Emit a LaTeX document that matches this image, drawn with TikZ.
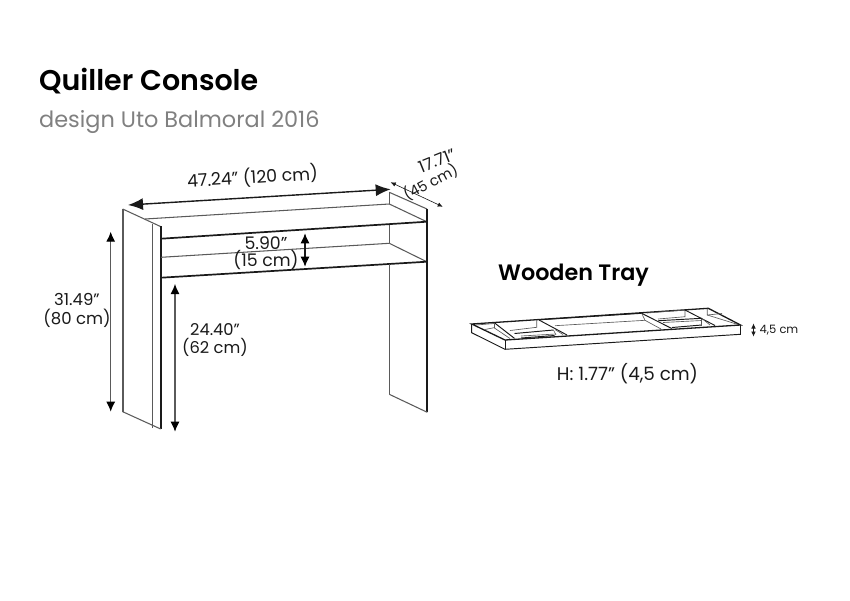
\documentclass[tikz,border=0pt]{standalone}
\usepackage{fontspec}
\setmainfont{Poppins}
\newfontfamily\semi{Poppins SemiBold}
\definecolor{ink}{HTML}{1A1A1A}
\definecolor{subgrey}{HTML}{808080}
\definecolor{edgegrey}{HTML}{5A5A5A}
\usetikzlibrary{arrows.meta}
\tikzset{
  heavy/.style={draw=ink,line width=1.7pt},
  thin edge/.style={draw=edgegrey,line width=1.05pt},
  mid edge/.style={draw=ink,line width=0.95pt},
  fine edge/.style={draw=edgegrey,line width=0.65pt},
  dimarrow/.style={draw=ink,line width=1.1pt,{Latex[length=10pt,width=9pt,color=black]}-{Latex[length=10pt,width=9pt,color=black]}},
  dimthin/.style={draw=ink,line width=0.6pt,{Latex[length=5pt,width=4.5pt]}-{Latex[length=5pt,width=4.5pt]}},
  dimlabel/.style={font=\fontsize{17.3}{19}\selectfont,text=ink,align=center,inner sep=0pt},
}
\begin{document}
\begin{tikzpicture}[x=1pt,y=-1pt]
\useasboundingbox[fill=white] (0,0) rectangle (850,600);
\node[anchor=base west,inner sep=0pt,font=\fontsize{28.5}{28.5}\selectfont\semi,text=black] (title) at (39,90) {Quiller Console};
\node[anchor=base west,inner sep=0pt,font=\fontsize{22.4}{22.4}\selectfont,text=subgrey] (sub) at (39,127) {design Uto Balmoral 2016};
% console
\draw[thin edge,line width=1.6pt] (123,209) -- (123,411.7);
\draw[thin edge] (122.7,209) -- (160.5,226.5);
\draw[thin edge] (152.7,224) -- (152.7,427.5);
\draw[heavy] (160.7,226) -- (160.7,429);
\draw[thin edge] (122.7,411.7) -- (160.7,429);
\draw[thin edge] (145,219) -- (389.3,204);
\draw[thin edge] (389.3,204) -- (426.7,221.7);
\draw[thin edge] (389.3,192.3) -- (389.3,204);
\draw[thin edge] (389.3,192.3) -- (427,209);
\draw[heavy] (427.3,209) -- (427.3,412.3);
\draw[heavy] (161,238.7) -- (427,221.7);
\draw[thin edge] (389.3,225) -- (389.3,243.3);
\draw[thin edge] (161,257.3) -- (389.3,243.3);
\draw[thin edge] (389.3,243.3) -- (426.7,261.7);
\draw[heavy] (161,277.7) -- (427,261.7);
\draw[thin edge] (389.3,264) -- (389.3,394.3);
\draw[thin edge] (389.3,394.3) -- (427.3,412.3);
% dims
\coordinate (wa) at (128,205); \coordinate (wb) at (390.7,189.3);
\draw[dimarrow,line width=1.4pt,{Latex[length=15pt,width=12pt]}-{Latex[length=15pt,width=12pt]}] (wa) -- (wb);
\node[dimlabel,rotate=3.5] (wl) at (252.5,177) {47.24" (120 cm)};
\coordinate (da) at (390.7,182.3); \coordinate (db) at (442.7,206.7);
\draw[dimthin] (da) -- (db);
\node[dimlabel,rotate=22,font=\fontsize{16.5}{16.5}\selectfont] (dl) at (437,160.5) {17.71"};
\node[dimlabel,rotate=28,font=\fontsize{14.5}{14.5}\selectfont] (dm) at (430.5,182) {(45 cm)};
\coordinate (sa) at (305,233.3); \coordinate (sb) at (305,266.7);
\draw[dimarrow] (sa) -- (sb);
\node[dimlabel,font=\fontsize{17.3}{15.5}\selectfont] (sl) at (266,253) {5.90"\\(15 cm)};
\coordinate (ha) at (110.7,231.7); \coordinate (hb) at (110.7,411.7);
\draw[dimarrow,draw=edgegrey] (ha) -- (hb);
\node[dimlabel,font=\fontsize{16.5}{19}\selectfont] (hl) at (77,310.5) {31.49"\\(80 cm)};
\coordinate (la) at (175,284); \coordinate (lb) at (175,431.7);
\draw[dimarrow,draw=edgegrey] (la) -- (lb);
\node[dimlabel,font=\fontsize{16.3}{18}\selectfont] (ll) at (215,340) {24.40"\\(62 cm)};
% tray
\node[anchor=base west,inner sep=0pt,font=\fontsize{22.3}{22.3}\selectfont\semi,text=black] (tt) at (498,280) {Wooden Tray};
\draw[mid edge,line width=1.3pt] (471.7,324) -- (708.3,308.3) -- (740.5,325) -- (505,340) -- cycle;
\draw[mid edge] (471.7,324) -- (471.7,332.7) -- (505,349.3) -- (740.5,334.3) -- (740.5,325);
\draw[mid edge] (505,340) -- (505,349.3);
% left compartments
\draw[mid edge] (494.3,322.7) -- (514.5,338.4);
\draw[fine edge] (476,325) -- (494.3,323.5);
\draw[fine edge] (485,329.5) -- (494,327.7) -- (510,338.5);
\draw[fine edge] (494,322.6) -- (494,327.7);
\draw[mid edge] (539,320) -- (567,335);
\draw[fine edge] (555,329.5) -- (563,334.5);
\draw[fine edge] (510,330.5) -- (536.7,327.3) -- (536.7,320);
\draw[mid edge] (514.5,333.5) -- (553.5,330);
\draw[fine edge] (521,336) -- (556,334);
\draw[mid edge] (521,338) -- (554.5,335.5);
\draw[fine edge] (553.5,330) -- (556,335);
% centre
\draw[mid edge] (539,319.8) -- (641.7,313.3);
\draw[fine edge] (555,325.7) -- (645,320.3);
\draw[fine edge] (641.7,313.3) -- (645,320.3);
% right compartments
\draw[mid edge] (641.7,313.3) -- (671.7,328.5);
\draw[fine edge] (645,320.3) -- (661,329);
\draw[fine edge] (647,313) -- (685,310);
\draw[fine edge] (685,310) -- (685,316.7) -- (658,319);
\draw[mid edge] (658.3,320.7) -- (701.7,318.3);
\draw[fine edge] (663,322.5) -- (701.7,320.5);
\draw[mid edge] (672,327.5) -- (701.7,325);
\draw[fine edge] (701.7,318.3) -- (701.7,326);
\draw[mid edge] (685,310) -- (715,325.5);
\draw[fine edge] (701.7,318.3) -- (710,325);
\draw[fine edge] (707.3,308.5) -- (707.3,315) -- (722,313.5);
\draw[fine edge] (707.3,315) -- (738,324.5);
\node[anchor=west,inner sep=0pt,font=\fontsize{11.5}{11.5}\selectfont,text=ink] (tc) at (759.5,330) {4,5 cm};
\coordinate (ta) at (753.5,323.5); \coordinate (tb) at (753.5,336.5);
\draw[dimthin] (ta) -- (tb);
\node[anchor=center,inner sep=0pt,font=\fontsize{18.3}{18.3}\selectfont,text=ink] (tl) at (627.5,374) {H: 1.77" (4,5 cm)};
\end{tikzpicture}
\end{document}
